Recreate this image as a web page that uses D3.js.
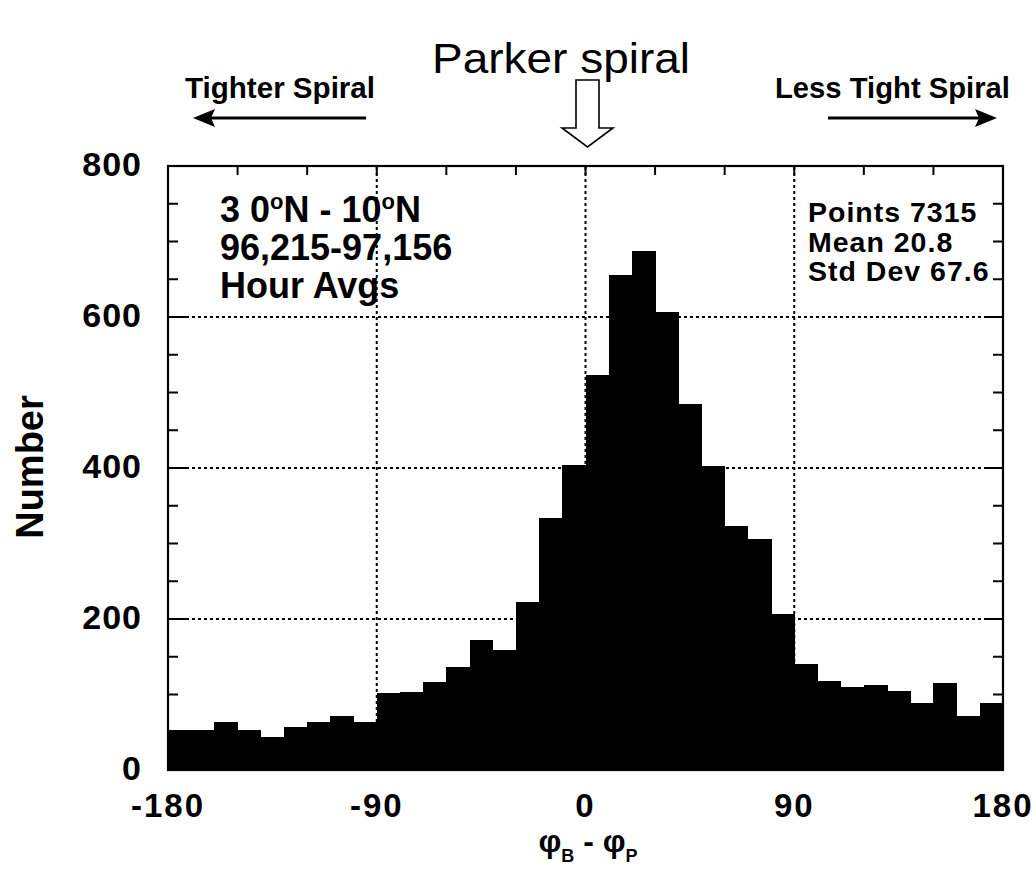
<!DOCTYPE html>
<html>
<head>
<meta charset="utf-8">
<script src="https://cdn.jsdelivr.net/npm/d3@7"></script>
<style>
  html, body { margin: 0; padding: 0; background: #fff; }
  svg { display: block; }
  text { font-family: "Liberation Sans", Arial, Helvetica, sans-serif; fill: #000; }
</style>
</head>
<body>
<svg id="chart" width="1036" height="874"></svg>
<script>
// Histogram of field-angle offset from the nominal Parker spiral, 10° bins
const binStarts = d3.range(-180, 180, 10);
const counts = [
  53, 53, 63, 53, 44, 57, 64, 72, 63,
  102, 103, 116, 136, 172, 159, 223, 334, 404,
  523, 655, 688, 606, 485, 402, 323, 306, 206,
  140, 118, 110, 113, 104, 89, 115, 71, 89
];
const binWidth = 10;

const xTickLabels = [-180, -90, 0, 90, 180];
const xMinorTicks = d3.range(-180, 181, 30);
const yTickLabels = [0, 200, 400, 600, 800];
const yMinorTicks = d3.range(0, 801, 50);
const xGrid = [-90, 0, 90];
const yGrid = [200, 400, 600];

const statsLines = ["Points 7315", "Mean 20.8", "Std Dev 67.6"];
const infoLines = ["96,215-97,156", "Hour Avgs"];

const svg = d3.select("#chart");

const plot = { left: 168, right: 1003, top: 166, bottom: 770 };
const x = d3.scaleLinear().domain([-180, 180]).range([plot.left, plot.right]);
const y = d3.scaleLinear().domain([0, 800]).range([plot.bottom, plot.top]);

// dotted grid
const grid = svg.append("g")
  .attr("stroke", "#000")
  .attr("stroke-width", 2)
  .attr("stroke-dasharray", "3,3");
grid.selectAll("line.gx").data(xGrid).join("line")
  .attr("x1", d => x(d)).attr("x2", d => x(d))
  .attr("y1", y(0)).attr("y2", y(800));
grid.selectAll("line.gy").data(yGrid).join("line")
  .attr("x1", x(-180)).attr("x2", x(180))
  .attr("y1", d => y(d)).attr("y2", d => y(d));

// histogram bars
svg.append("g")
  .selectAll("rect")
  .data(binStarts.map((s, i) => ({ s, n: counts[i] })))
  .join("rect")
  .attr("x", d => x(d.s))
  .attr("width", d => x(d.s + binWidth) - x(d.s) + 0.6)
  .attr("y", d => y(d.n))
  .attr("height", d => y(0) - y(d.n))
  .attr("fill", "#000")
  .attr("shape-rendering", "crispEdges");

// frame
svg.append("rect")
  .attr("x", x(-180)).attr("y", y(800))
  .attr("width", x(180) - x(-180)).attr("height", y(0) - y(800))
  .attr("fill", "none").attr("stroke", "#000").attr("stroke-width", 2.2);

// inward ticks
const ticks = svg.append("g").attr("stroke", "#000").attr("stroke-width", 2);
function yTickLen(v) { return v % 200 === 0 ? 18 : 10; }
ticks.selectAll("line.yl").data(yMinorTicks).join("line")
  .attr("x1", x(-180)).attr("x2", d => x(-180) + yTickLen(d))
  .attr("y1", d => y(d)).attr("y2", d => y(d));
ticks.selectAll("line.yr").data(yMinorTicks).join("line")
  .attr("x1", x(180)).attr("x2", d => x(180) - yTickLen(d))
  .attr("y1", d => y(d)).attr("y2", d => y(d));
ticks.selectAll("line.xt").data(xMinorTicks).join("line")
  .attr("x1", d => x(d)).attr("x2", d => x(d))
  .attr("y1", y(800)).attr("y2", y(800) + 9);
ticks.selectAll("line.xb").data(xMinorTicks).join("line")
  .attr("x1", d => x(d)).attr("x2", d => x(d))
  .attr("y1", y(0)).attr("y2", y(0) - 9);

// tick labels
svg.append("g").selectAll("text").data(yTickLabels).join("text")
  .attr("x", x(-180) - 26)
  .attr("y", d => y(d) + 10)
  .attr("text-anchor", "end")
  .attr("font-size", 34)
  .attr("font-weight", "bold")
  .attr("letter-spacing", 1)
  .text(d => d);

svg.append("g").selectAll("text").data(xTickLabels).join("text")
  .attr("x", d => x(d))
  .attr("y", 817)
  .attr("text-anchor", "middle")
  .attr("font-size", 33)
  .attr("font-weight", "bold")
  .attr("letter-spacing", 2)
  .text(d => d);

// axis titles
svg.append("text")
  .attr("transform", "translate(43,467) rotate(-90)")
  .attr("text-anchor", "middle")
  .attr("font-size", 38)
  .attr("font-weight", "bold")
  .text("Number");

const xt = svg.append("text")
  .attr("x", 588).attr("y", 852)
  .attr("text-anchor", "middle")
  .attr("font-size", 32)
  .attr("font-weight", "bold");
xt.append("tspan").text("φ");
xt.append("tspan").attr("font-size", 18).attr("dy", 10).text("B");
xt.append("tspan").attr("dy", -10).text(" - φ");
xt.append("tspan").attr("font-size", 18).attr("dy", 10).text("P");

// in-plot labels
const info = svg.append("text")
  .attr("font-size", 36).attr("font-weight", "bold");
const l1 = info.append("tspan").attr("x", 220).attr("y", 222);
l1.append("tspan").text("3 0");
l1.append("tspan").attr("font-size", 22).attr("dy", -13).text("o");
l1.append("tspan").attr("dy", 13).text("N - 10");
l1.append("tspan").attr("font-size", 22).attr("dy", -13).text("o");
l1.append("tspan").attr("dy", 13).text("N");
info.selectAll("tspan.l").data(infoLines).join("tspan")
  .attr("x", 220)
  .attr("y", (d, i) => 260 + i * 38)
  .text(d => d);

svg.append("g").selectAll("text").data(statsLines).join("text")
  .attr("x", 808)
  .attr("y", (d, i) => 222 + i * 29.5)
  .attr("font-size", 28.5)
  .attr("font-weight", "bold")
  .attr("letter-spacing", 1)
  .text(d => d);

// annotations above the frame
svg.append("text")
  .attr("x", 561).attr("y", 73)
  .attr("text-anchor", "middle")
  .attr("font-size", 42)
  .attr("textLength", 258).attr("lengthAdjust", "spacingAndGlyphs")
  .text("Parker spiral");

svg.append("text")
  .attr("x", 185).attr("y", 98)
  .attr("font-size", 29).attr("font-weight", "bold")
  .attr("textLength", 190).attr("lengthAdjust", "spacingAndGlyphs")
  .text("Tighter Spiral");

svg.append("text")
  .attr("x", 775).attr("y", 98)
  .attr("font-size", 29).attr("font-weight", "bold")
  .attr("textLength", 235).attr("lengthAdjust", "spacingAndGlyphs")
  .text("Less Tight Spiral");

// direction arrows
const arrows = svg.append("g");
arrows.append("line").attr("x1", 366).attr("x2", 205).attr("y1", 118).attr("y2", 118)
  .attr("stroke", "#000").attr("stroke-width", 3);
arrows.append("path").attr("d", "M193,118 L215,109 L211,118 L215,127 Z").attr("fill", "#000");
arrows.append("line").attr("x1", 828).attr("x2", 985).attr("y1", 118).attr("y2", 118)
  .attr("stroke", "#000").attr("stroke-width", 3);
arrows.append("path").attr("d", "M997,118 L975,109 L979,118 L975,127 Z").attr("fill", "#000");

// hollow arrow marking the Parker spiral direction
svg.append("path")
  .attr("d", "M576,80 L599,80 L599,128 L613,128 L587.5,147 L562,128 L576,128 Z")
  .attr("fill", "#fff").attr("stroke", "#000").attr("stroke-width", 1.6);
</script>
</body>
</html>
